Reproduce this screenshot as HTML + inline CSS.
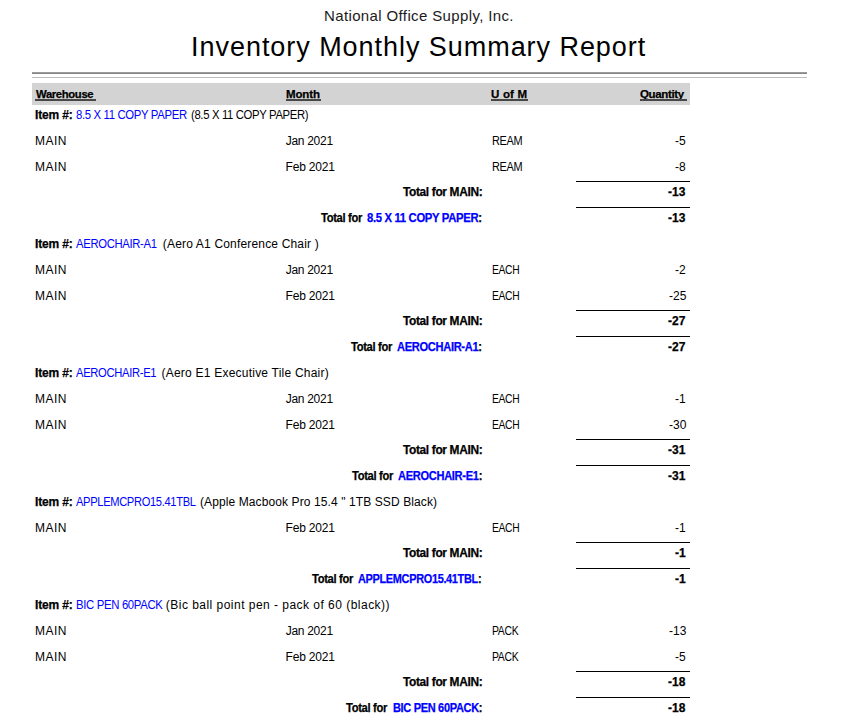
<!DOCTYPE html>
<html><head><meta charset="utf-8"><style>
html,body{margin:0;padding:0;background:#fff;width:842px;height:718px;overflow:hidden;position:relative}
body{font-family:"Liberation Sans",sans-serif;color:#000}
.ln{position:absolute;left:576px;width:114px;height:1px;background:#000}
.r1{position:absolute;left:32px;width:775px;top:72px;height:1px;background:#9a9a9a;border-bottom:1px solid #888}
.r2{position:absolute;left:32px;width:775px;top:77px;height:1px;background:#bcbcbc}
.ul{position:absolute;top:99px;height:2px;background:#474747}
.hdr{position:absolute;left:32px;width:658px;top:83px;height:22px;background:#d3d3d3}
</style></head><body>
<div class="r1"></div><div class="r2"></div>
<div class="hdr"></div>
<div style="position:absolute;white-space:pre;line-height:normal;font-size:15px;font-weight:normal;letter-spacing:0.3704px;color:#1a1a1a;left:324.0px;top:7px">National Office Supply, Inc.</div>
<div style="position:absolute;white-space:pre;line-height:normal;font-size:27px;font-weight:normal;letter-spacing:0.9516px;color:#000;left:191.1px;top:32px">Inventory Monthly Summary Report</div>
<div style="position:absolute;white-space:pre;line-height:normal;font-size:11.5px;font-weight:bold;letter-spacing:-0.3500px;color:#000;-webkit-text-stroke:0.25px currentColor;transform:scaleX(0.9801);transform-origin:0 0;left:36.0px;top:88px">Warehouse</div>
<div style="position:absolute;white-space:pre;line-height:normal;font-size:11.5px;font-weight:bold;letter-spacing:-0.1250px;color:#000;-webkit-text-stroke:0.25px currentColor;left:286.0px;top:88px">Month</div>
<div style="position:absolute;white-space:pre;line-height:normal;font-size:11.5px;font-weight:bold;letter-spacing:0.2000px;color:#000;-webkit-text-stroke:0.25px currentColor;left:491.0px;top:88px">U of M</div>
<div style="position:absolute;white-space:pre;line-height:normal;font-size:11.5px;font-weight:bold;letter-spacing:-0.3500px;color:#000;-webkit-text-stroke:0.25px currentColor;transform:scaleX(0.9989);transform-origin:0 0;left:640.4px;top:88px">Quantity</div>
<div style="position:absolute;white-space:pre;line-height:normal;font-size:12px;font-weight:bold;letter-spacing:-0.1667px;color:#000;-webkit-text-stroke:0.25px currentColor;left:35.0px;top:108px">Item #:</div>
<div style="position:absolute;white-space:pre;line-height:normal;font-size:12px;font-weight:normal;letter-spacing:-0.3500px;color:#0000ff;transform:scaleX(0.9431);transform-origin:0 0;left:75.6px;top:108px">8.5 X 11 COPY PAPER</div>
<div style="position:absolute;white-space:pre;line-height:normal;font-size:12px;font-weight:normal;letter-spacing:-0.3500px;color:#000;transform:scaleX(0.9400);transform-origin:0 0;left:190.5px;top:108px">(8.5 X 11 COPY PAPER)</div>
<div style="position:absolute;white-space:pre;line-height:normal;font-size:12px;font-weight:normal;letter-spacing:0.5000px;color:#000;left:35.0px;top:134px">MAIN</div>
<div style="position:absolute;white-space:pre;line-height:normal;font-size:12px;font-weight:normal;letter-spacing:-0.2857px;color:#000;left:285.7px;top:134px">Jan 2021</div>
<div style="position:absolute;white-space:pre;line-height:normal;font-size:12px;font-weight:normal;letter-spacing:-0.3500px;color:#000;transform:scaleX(0.9091);transform-origin:0 0;left:491.8px;top:134px">REAM</div>
<div style="position:absolute;white-space:pre;line-height:normal;font-size:12px;font-weight:normal;letter-spacing:0.0000px;color:#000;left:675.0px;top:134px">-5</div>
<div style="position:absolute;white-space:pre;line-height:normal;font-size:12px;font-weight:normal;letter-spacing:0.5000px;color:#000;left:35.0px;top:160px">MAIN</div>
<div style="position:absolute;white-space:pre;line-height:normal;font-size:12px;font-weight:normal;letter-spacing:-0.2143px;color:#000;left:285.6px;top:160px">Feb 2021</div>
<div style="position:absolute;white-space:pre;line-height:normal;font-size:12px;font-weight:normal;letter-spacing:-0.3500px;color:#000;transform:scaleX(0.9091);transform-origin:0 0;left:491.8px;top:160px">REAM</div>
<div style="position:absolute;white-space:pre;line-height:normal;font-size:12px;font-weight:normal;letter-spacing:0.0000px;color:#000;left:675.0px;top:160px">-8</div>
<div style="position:absolute;white-space:pre;line-height:normal;font-size:12px;font-weight:bold;letter-spacing:-0.3500px;color:#000;-webkit-text-stroke:0.25px currentColor;transform:scaleX(0.9926);transform-origin:0 0;left:402.5px;top:185px">Total for MAIN:</div>
<div style="position:absolute;white-space:pre;line-height:normal;font-size:12px;font-weight:bold;letter-spacing:0.0000px;color:#000;-webkit-text-stroke:0.25px currentColor;left:668.0px;top:185px">-13</div>
<div style="position:absolute;white-space:pre;line-height:normal;font-size:12px;font-weight:bold;letter-spacing:-0.3500px;color:#000;-webkit-text-stroke:0.25px currentColor;transform:scaleX(0.9307);transform-origin:0 0;left:320.5px;top:211px">Total for</div>
<div style="position:absolute;white-space:pre;line-height:normal;font-size:12px;font-weight:bold;letter-spacing:-0.3500px;color:#000;-webkit-text-stroke:0.25px currentColor;transform:scaleX(0.9400);transform-origin:0 0;left:366.8px;top:211px"><span style="color:#0000ff">8.5 X 11 COPY PAPER</span>:</div>
<div style="position:absolute;white-space:pre;line-height:normal;font-size:12px;font-weight:bold;letter-spacing:0.0000px;color:#000;-webkit-text-stroke:0.25px currentColor;left:668.0px;top:211px">-13</div>
<div style="position:absolute;white-space:pre;line-height:normal;font-size:12px;font-weight:bold;letter-spacing:-0.1667px;color:#000;-webkit-text-stroke:0.25px currentColor;left:35.0px;top:237px">Item #:</div>
<div style="position:absolute;white-space:pre;line-height:normal;font-size:12px;font-weight:normal;letter-spacing:-0.3500px;color:#0000ff;transform:scaleX(0.9403);transform-origin:0 0;left:76.4px;top:237px">AEROCHAIR-A1</div>
<div style="position:absolute;white-space:pre;line-height:normal;font-size:12px;font-weight:normal;letter-spacing:0.1731px;color:#000;left:162.8px;top:237px">(Aero A1 Conference Chair )</div>
<div style="position:absolute;white-space:pre;line-height:normal;font-size:12px;font-weight:normal;letter-spacing:0.5000px;color:#000;left:35.0px;top:263px">MAIN</div>
<div style="position:absolute;white-space:pre;line-height:normal;font-size:12px;font-weight:normal;letter-spacing:-0.2857px;color:#000;left:285.7px;top:263px">Jan 2021</div>
<div style="position:absolute;white-space:pre;line-height:normal;font-size:12px;font-weight:normal;letter-spacing:-0.3500px;color:#000;transform:scaleX(0.8573);transform-origin:0 0;left:491.8px;top:263px">EACH</div>
<div style="position:absolute;white-space:pre;line-height:normal;font-size:12px;font-weight:normal;letter-spacing:0.0000px;color:#000;left:675.0px;top:263px">-2</div>
<div style="position:absolute;white-space:pre;line-height:normal;font-size:12px;font-weight:normal;letter-spacing:0.5000px;color:#000;left:35.0px;top:289px">MAIN</div>
<div style="position:absolute;white-space:pre;line-height:normal;font-size:12px;font-weight:normal;letter-spacing:-0.2143px;color:#000;left:285.6px;top:289px">Feb 2021</div>
<div style="position:absolute;white-space:pre;line-height:normal;font-size:12px;font-weight:normal;letter-spacing:-0.3500px;color:#000;transform:scaleX(0.8573);transform-origin:0 0;left:491.8px;top:289px">EACH</div>
<div style="position:absolute;white-space:pre;line-height:normal;font-size:12px;font-weight:normal;letter-spacing:0.0000px;color:#000;left:669.0px;top:289px">-25</div>
<div style="position:absolute;white-space:pre;line-height:normal;font-size:12px;font-weight:bold;letter-spacing:-0.3500px;color:#000;-webkit-text-stroke:0.25px currentColor;transform:scaleX(0.9926);transform-origin:0 0;left:402.5px;top:314px">Total for MAIN:</div>
<div style="position:absolute;white-space:pre;line-height:normal;font-size:12px;font-weight:bold;letter-spacing:0.0000px;color:#000;-webkit-text-stroke:0.25px currentColor;left:668.0px;top:314px">-27</div>
<div style="position:absolute;white-space:pre;line-height:normal;font-size:12px;font-weight:bold;letter-spacing:-0.3500px;color:#000;-webkit-text-stroke:0.25px currentColor;transform:scaleX(0.9307);transform-origin:0 0;left:350.5px;top:340px">Total for</div>
<div style="position:absolute;white-space:pre;line-height:normal;font-size:12px;font-weight:bold;letter-spacing:-0.3500px;color:#000;-webkit-text-stroke:0.25px currentColor;transform:scaleX(0.9260);transform-origin:0 0;left:397.0px;top:340px"><span style="color:#0000ff">AEROCHAIR-A1</span>:</div>
<div style="position:absolute;white-space:pre;line-height:normal;font-size:12px;font-weight:bold;letter-spacing:0.0000px;color:#000;-webkit-text-stroke:0.25px currentColor;left:668.0px;top:340px">-27</div>
<div style="position:absolute;white-space:pre;line-height:normal;font-size:12px;font-weight:bold;letter-spacing:-0.1667px;color:#000;-webkit-text-stroke:0.25px currentColor;left:35.0px;top:366px">Item #:</div>
<div style="position:absolute;white-space:pre;line-height:normal;font-size:12px;font-weight:normal;letter-spacing:-0.3500px;color:#0000ff;transform:scaleX(0.9345);transform-origin:0 0;left:76.4px;top:366px">AEROCHAIR-E1</div>
<div style="position:absolute;white-space:pre;line-height:normal;font-size:12px;font-weight:normal;letter-spacing:0.2241px;color:#000;left:161.5px;top:366px">(Aero E1 Executive Tile Chair)</div>
<div style="position:absolute;white-space:pre;line-height:normal;font-size:12px;font-weight:normal;letter-spacing:0.5000px;color:#000;left:35.0px;top:392px">MAIN</div>
<div style="position:absolute;white-space:pre;line-height:normal;font-size:12px;font-weight:normal;letter-spacing:-0.2857px;color:#000;left:285.7px;top:392px">Jan 2021</div>
<div style="position:absolute;white-space:pre;line-height:normal;font-size:12px;font-weight:normal;letter-spacing:-0.3500px;color:#000;transform:scaleX(0.8573);transform-origin:0 0;left:491.8px;top:392px">EACH</div>
<div style="position:absolute;white-space:pre;line-height:normal;font-size:12px;font-weight:normal;letter-spacing:0.0000px;color:#000;left:675.0px;top:392px">-1</div>
<div style="position:absolute;white-space:pre;line-height:normal;font-size:12px;font-weight:normal;letter-spacing:0.5000px;color:#000;left:35.0px;top:418px">MAIN</div>
<div style="position:absolute;white-space:pre;line-height:normal;font-size:12px;font-weight:normal;letter-spacing:-0.2143px;color:#000;left:285.6px;top:418px">Feb 2021</div>
<div style="position:absolute;white-space:pre;line-height:normal;font-size:12px;font-weight:normal;letter-spacing:-0.3500px;color:#000;transform:scaleX(0.8573);transform-origin:0 0;left:491.8px;top:418px">EACH</div>
<div style="position:absolute;white-space:pre;line-height:normal;font-size:12px;font-weight:normal;letter-spacing:0.0000px;color:#000;left:669.0px;top:418px">-30</div>
<div style="position:absolute;white-space:pre;line-height:normal;font-size:12px;font-weight:bold;letter-spacing:-0.3500px;color:#000;-webkit-text-stroke:0.25px currentColor;transform:scaleX(0.9926);transform-origin:0 0;left:402.5px;top:443px">Total for MAIN:</div>
<div style="position:absolute;white-space:pre;line-height:normal;font-size:12px;font-weight:bold;letter-spacing:0.0000px;color:#000;-webkit-text-stroke:0.25px currentColor;left:668.0px;top:443px">-31</div>
<div style="position:absolute;white-space:pre;line-height:normal;font-size:12px;font-weight:bold;letter-spacing:-0.3500px;color:#000;-webkit-text-stroke:0.25px currentColor;transform:scaleX(0.9307);transform-origin:0 0;left:351.5px;top:469px">Total for</div>
<div style="position:absolute;white-space:pre;line-height:normal;font-size:12px;font-weight:bold;letter-spacing:-0.3500px;color:#000;-webkit-text-stroke:0.25px currentColor;transform:scaleX(0.9252);transform-origin:0 0;left:398.0px;top:469px"><span style="color:#0000ff">AEROCHAIR-E1</span>:</div>
<div style="position:absolute;white-space:pre;line-height:normal;font-size:12px;font-weight:bold;letter-spacing:0.0000px;color:#000;-webkit-text-stroke:0.25px currentColor;left:668.0px;top:469px">-31</div>
<div style="position:absolute;white-space:pre;line-height:normal;font-size:12px;font-weight:bold;letter-spacing:-0.1667px;color:#000;-webkit-text-stroke:0.25px currentColor;left:35.0px;top:495px">Item #:</div>
<div style="position:absolute;white-space:pre;line-height:normal;font-size:12px;font-weight:normal;letter-spacing:-0.3500px;color:#0000ff;transform:scaleX(0.9266);transform-origin:0 0;left:76.0px;top:495px">APPLEMCPRO15.41TBL</div>
<div style="position:absolute;white-space:pre;line-height:normal;font-size:12px;font-weight:normal;letter-spacing:0.1026px;color:#000;left:200.0px;top:495px">(Apple Macbook Pro 15.4 &quot; 1TB SSD Black)</div>
<div style="position:absolute;white-space:pre;line-height:normal;font-size:12px;font-weight:normal;letter-spacing:0.5000px;color:#000;left:35.0px;top:521px">MAIN</div>
<div style="position:absolute;white-space:pre;line-height:normal;font-size:12px;font-weight:normal;letter-spacing:-0.2143px;color:#000;left:285.6px;top:521px">Feb 2021</div>
<div style="position:absolute;white-space:pre;line-height:normal;font-size:12px;font-weight:normal;letter-spacing:-0.3500px;color:#000;transform:scaleX(0.8573);transform-origin:0 0;left:491.8px;top:521px">EACH</div>
<div style="position:absolute;white-space:pre;line-height:normal;font-size:12px;font-weight:normal;letter-spacing:0.0000px;color:#000;left:675.0px;top:521px">-1</div>
<div style="position:absolute;white-space:pre;line-height:normal;font-size:12px;font-weight:bold;letter-spacing:-0.3500px;color:#000;-webkit-text-stroke:0.25px currentColor;transform:scaleX(0.9926);transform-origin:0 0;left:402.5px;top:546px">Total for MAIN:</div>
<div style="position:absolute;white-space:pre;line-height:normal;font-size:12px;font-weight:bold;letter-spacing:0.0000px;color:#000;-webkit-text-stroke:0.25px currentColor;left:675.0px;top:546px">-1</div>
<div style="position:absolute;white-space:pre;line-height:normal;font-size:12px;font-weight:bold;letter-spacing:-0.3500px;color:#000;-webkit-text-stroke:0.25px currentColor;transform:scaleX(0.9307);transform-origin:0 0;left:311.9px;top:572px">Total for</div>
<div style="position:absolute;white-space:pre;line-height:normal;font-size:12px;font-weight:bold;letter-spacing:-0.3500px;color:#000;-webkit-text-stroke:0.25px currentColor;transform:scaleX(0.9101);transform-origin:0 0;left:358.1px;top:572px"><span style="color:#0000ff">APPLEMCPRO15.41TBL</span>:</div>
<div style="position:absolute;white-space:pre;line-height:normal;font-size:12px;font-weight:bold;letter-spacing:0.0000px;color:#000;-webkit-text-stroke:0.25px currentColor;left:675.0px;top:572px">-1</div>
<div style="position:absolute;white-space:pre;line-height:normal;font-size:12px;font-weight:bold;letter-spacing:-0.1667px;color:#000;-webkit-text-stroke:0.25px currentColor;left:35.0px;top:598px">Item #:</div>
<div style="position:absolute;white-space:pre;line-height:normal;font-size:12px;font-weight:normal;letter-spacing:-0.3500px;color:#0000ff;transform:scaleX(0.9453);transform-origin:0 0;left:75.7px;top:598px">BIC PEN 60PACK</div>
<div style="position:absolute;white-space:pre;line-height:normal;font-size:12px;font-weight:normal;letter-spacing:0.4750px;color:#000;left:165.8px;top:598px">(Bic ball point pen - pack of 60 (black))</div>
<div style="position:absolute;white-space:pre;line-height:normal;font-size:12px;font-weight:normal;letter-spacing:0.5000px;color:#000;left:35.0px;top:624px">MAIN</div>
<div style="position:absolute;white-space:pre;line-height:normal;font-size:12px;font-weight:normal;letter-spacing:-0.2857px;color:#000;left:285.7px;top:624px">Jan 2021</div>
<div style="position:absolute;white-space:pre;line-height:normal;font-size:12px;font-weight:normal;letter-spacing:-0.3500px;color:#000;transform:scaleX(0.8686);transform-origin:0 0;left:491.8px;top:624px">PACK</div>
<div style="position:absolute;white-space:pre;line-height:normal;font-size:12px;font-weight:normal;letter-spacing:0.0000px;color:#000;left:669.0px;top:624px">-13</div>
<div style="position:absolute;white-space:pre;line-height:normal;font-size:12px;font-weight:normal;letter-spacing:0.5000px;color:#000;left:35.0px;top:650px">MAIN</div>
<div style="position:absolute;white-space:pre;line-height:normal;font-size:12px;font-weight:normal;letter-spacing:-0.2143px;color:#000;left:285.6px;top:650px">Feb 2021</div>
<div style="position:absolute;white-space:pre;line-height:normal;font-size:12px;font-weight:normal;letter-spacing:-0.3500px;color:#000;transform:scaleX(0.8686);transform-origin:0 0;left:491.8px;top:650px">PACK</div>
<div style="position:absolute;white-space:pre;line-height:normal;font-size:12px;font-weight:normal;letter-spacing:0.0000px;color:#000;left:675.0px;top:650px">-5</div>
<div style="position:absolute;white-space:pre;line-height:normal;font-size:12px;font-weight:bold;letter-spacing:-0.3500px;color:#000;-webkit-text-stroke:0.25px currentColor;transform:scaleX(0.9926);transform-origin:0 0;left:402.5px;top:675px">Total for MAIN:</div>
<div style="position:absolute;white-space:pre;line-height:normal;font-size:12px;font-weight:bold;letter-spacing:0.0000px;color:#000;-webkit-text-stroke:0.25px currentColor;left:668.0px;top:675px">-18</div>
<div style="position:absolute;white-space:pre;line-height:normal;font-size:12px;font-weight:bold;letter-spacing:-0.3500px;color:#000;-webkit-text-stroke:0.25px currentColor;transform:scaleX(0.9307);transform-origin:0 0;left:346.0px;top:701px">Total for</div>
<div style="position:absolute;white-space:pre;line-height:normal;font-size:12px;font-weight:bold;letter-spacing:-0.3500px;color:#000;-webkit-text-stroke:0.25px currentColor;transform:scaleX(0.9167);transform-origin:0 0;left:393.0px;top:701px"><span style="color:#0000ff">BIC PEN 60PACK</span>:</div>
<div style="position:absolute;white-space:pre;line-height:normal;font-size:12px;font-weight:bold;letter-spacing:0.0000px;color:#000;-webkit-text-stroke:0.25px currentColor;left:668.0px;top:701px">-18</div>
<div class="ul" style="left:35px;width:61px"></div>
<div class="ul" style="left:286px;width:35px"></div>
<div class="ul" style="left:491px;width:37px"></div>
<div class="ul" style="left:640px;width:47px"></div>
<div class="ln" style="top:181px"></div>
<div class="ln" style="top:207px"></div>
<div class="ln" style="top:310px"></div>
<div class="ln" style="top:336px"></div>
<div class="ln" style="top:439px"></div>
<div class="ln" style="top:465px"></div>
<div class="ln" style="top:542px"></div>
<div class="ln" style="top:568px"></div>
<div class="ln" style="top:671px"></div>
<div class="ln" style="top:697px"></div>
</body></html>
